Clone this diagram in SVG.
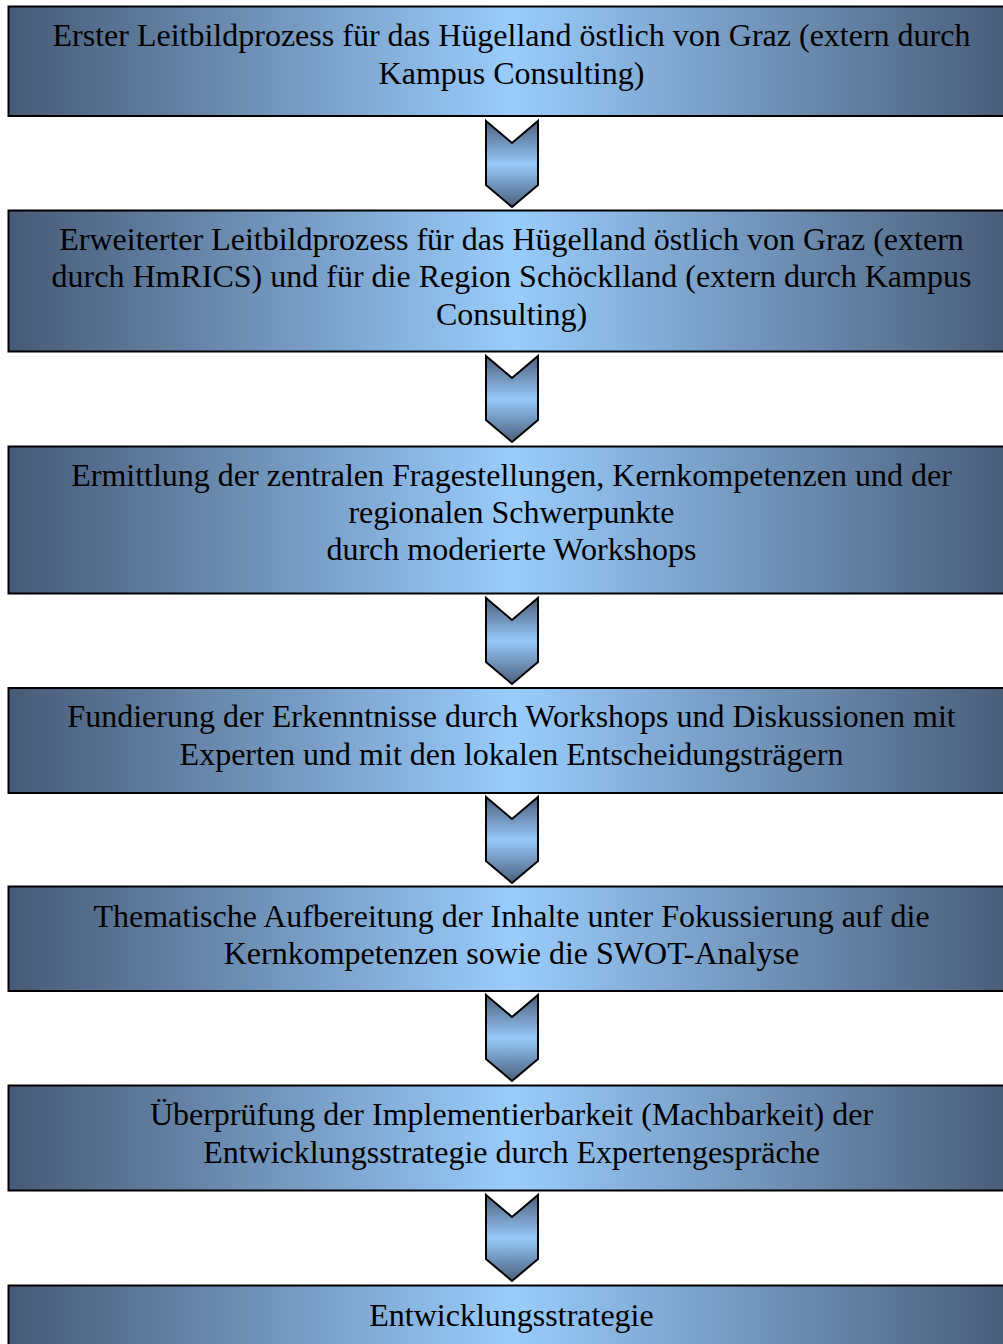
<svg xmlns="http://www.w3.org/2000/svg" width="1003" height="1344" viewBox="0 0 1003 1344">
<defs>
<linearGradient id="gb" x1="0" y1="0" x2="1" y2="0">
<stop offset="0" stop-color="#475a76"/>
<stop offset="0.5" stop-color="#99ccfc"/>
<stop offset="1" stop-color="#475a76"/>
</linearGradient>
<linearGradient id="ga" x1="0" y1="0" x2="0" y2="1">
<stop offset="0" stop-color="#4b5f7c"/>
<stop offset="0.5" stop-color="#97c9fa"/>
<stop offset="1" stop-color="#4b5f7c"/>
</linearGradient>
<path id="arr" d="M0,0 L26,22 L52,0 L52,64 L26,86 L0,64 Z"/>
</defs>
<style>
.box{fill:url(#gb);stroke:#000;stroke-width:2}
.arrow{fill:url(#ga);stroke:#000;stroke-width:2;stroke-linejoin:miter}
text{font-family:"Liberation Serif","Times New Roman",serif;font-size:32px;fill:#000;text-anchor:middle}
</style>
<rect width="1003" height="1344" fill="#fff"/>
<g id="connectors">
<use href="#arr" class="arrow" x="486" y="121"/>
<use href="#arr" class="arrow" x="486" y="356"/>
<use href="#arr" class="arrow" x="486" y="598"/>
<use href="#arr" class="arrow" x="486" y="797"/>
<use href="#arr" class="arrow" x="486" y="995"/>
<use href="#arr" class="arrow" x="486" y="1195"/>
</g>
<g id="n1">
<rect class="box" x="8.5" y="6.5" width="1010" height="109.5"/>
<text x="511.5" y="46">Erster Leitbildprozess für das Hügelland östlich von Graz (extern durch</text>
<text x="511.5" y="84">Kampus Consulting)</text>
</g>
<g id="n2">
<rect class="box" x="8.5" y="210.5" width="1010" height="141"/>
<text x="511.5" y="250">Erweiterter Leitbildprozess für das Hügelland östlich von Graz (extern</text>
<text x="511.5" y="287">durch HmRICS) und für die Region Schöcklland (extern durch Kampus</text>
<text x="511.5" y="325">Consulting)</text>
</g>
<g id="n3">
<rect class="box" x="8.5" y="446.5" width="1010" height="147"/>
<text x="511.5" y="486">Ermittlung der zentralen Fragestellungen, Kernkompetenzen und der</text>
<text x="511.5" y="523">regionalen Schwerpunkte</text>
<text x="511.5" y="560">durch moderierte Workshops</text>
</g>
<g id="n4">
<rect class="box" x="8.5" y="688" width="1010" height="105"/>
<text x="511.5" y="727">Fundierung der Erkenntnisse durch Workshops und Diskussionen mit</text>
<text x="511.5" y="765">Experten und mit den lokalen Entscheidungsträgern</text>
</g>
<g id="n5">
<rect class="box" x="8.5" y="886.5" width="1010" height="104.5"/>
<text x="511.5" y="927">Thematische Aufbereitung der Inhalte unter Fokussierung auf die</text>
<text x="511.5" y="964">Kernkompetenzen sowie die SWOT-Analyse</text>
</g>
<g id="n6">
<rect class="box" x="8.5" y="1085.5" width="1010" height="105"/>
<text x="511.5" y="1125">Überprüfung der Implementierbarkeit (Machbarkeit) der</text>
<text x="511.5" y="1163">Entwicklungsstrategie durch Expertengespräche</text>
</g>
<g id="n7">
<rect class="box" x="8.5" y="1285.5" width="1010" height="80"/>
<text x="511.5" y="1326">Entwicklungsstrategie</text>
</g>
</svg>
